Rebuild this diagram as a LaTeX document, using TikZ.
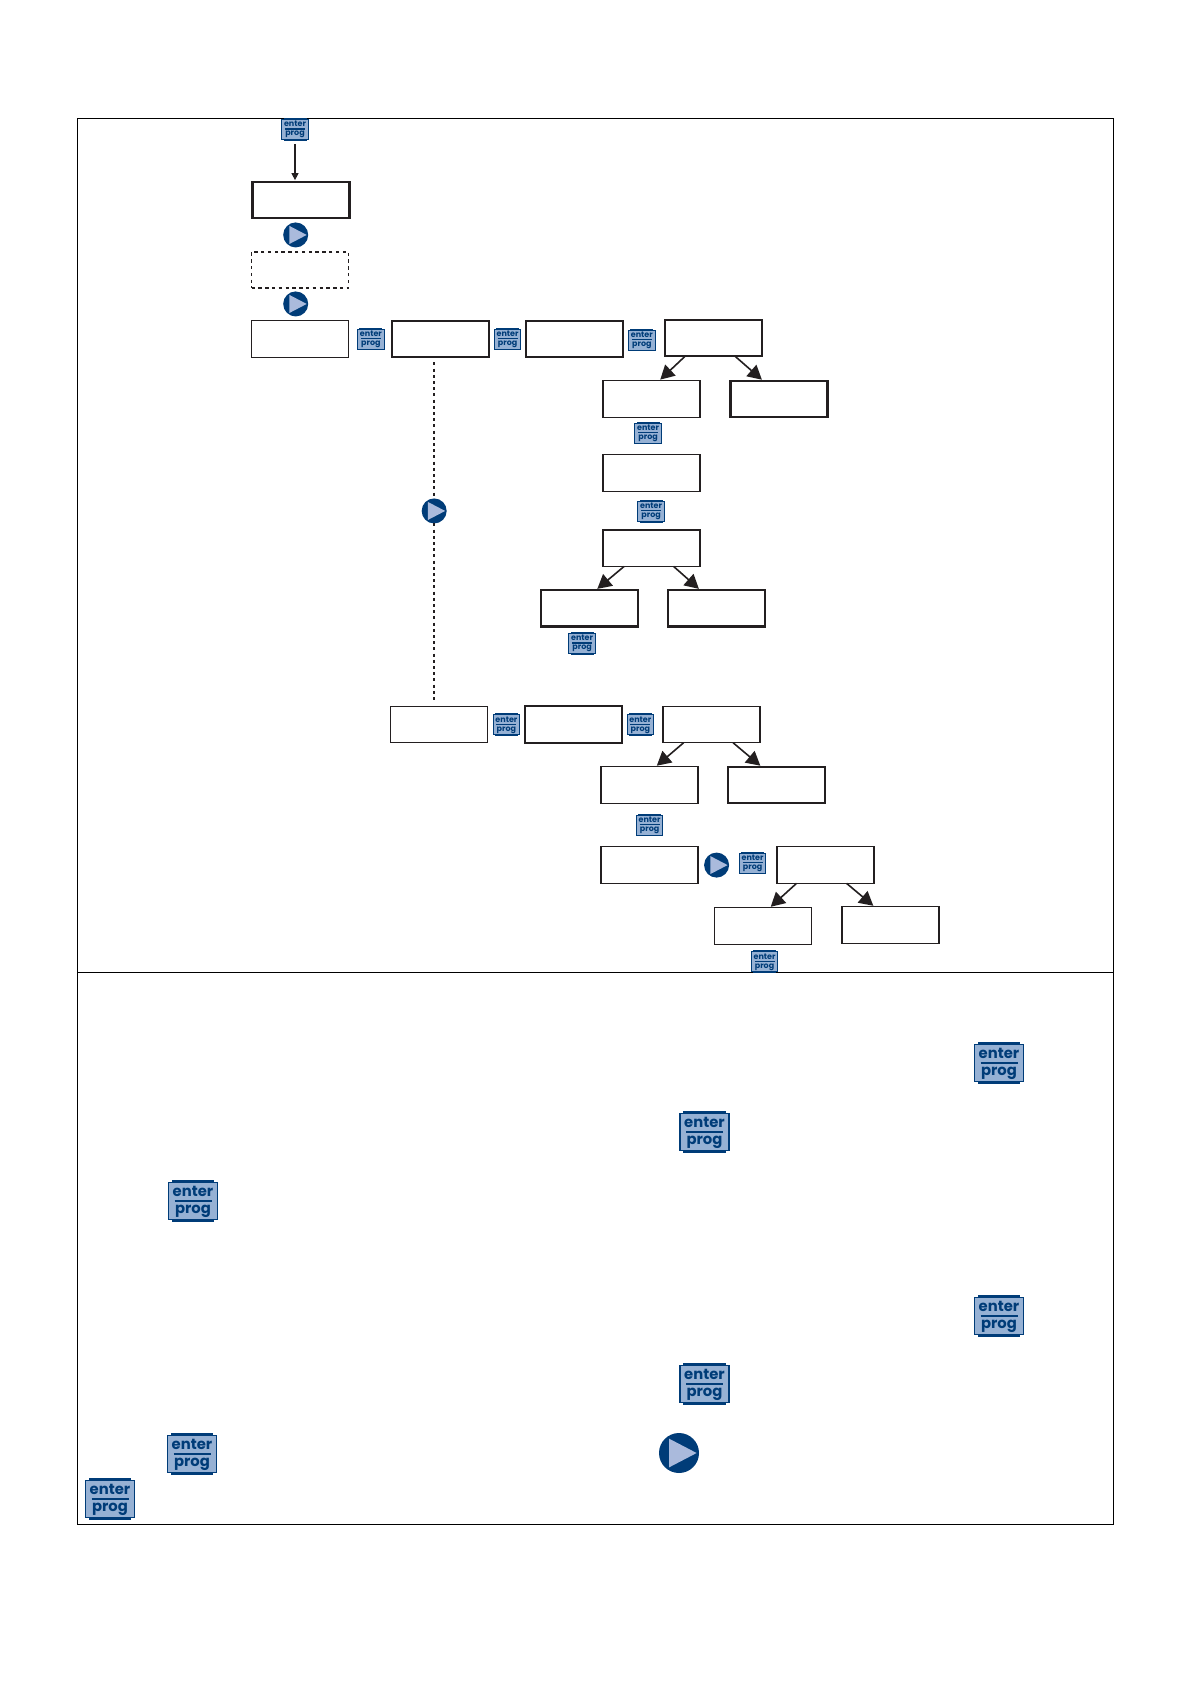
\documentclass[tikz,border=0pt]{standalone}
\usepackage{fontspec}
\setsansfont{Poppins}
\usepackage{tikz}
\usetikzlibrary{positioning,arrows.meta,calc}
\definecolor{navy}{RGB}{0,60,120}
\definecolor{steel}{RGB}{150,177,212}
\definecolor{pale}{RGB}{170,186,220}
\definecolor{ink}{RGB}{35,31,32}
\newcommand{\progtext}{\rule{0pt}{.8em}enter\\[-.8em]\rule{2.5em}{.135em}\\[-.35em]prog}
\tikzset{
  box/.style={draw=ink,line width=.65pt,minimum width=48.5pt,minimum height=18.25pt,inner sep=0pt,outer sep=0pt},
  heavy/.style={box,line width=1.1pt},
  dashbox/.style={box,line width=.9pt,dash pattern=on 1.7pt off 1.7pt},
  flow/.style={-{Triangle[length=7pt,width=7.5pt]},draw=ink,line width=.8pt,shorten >=.8pt},
  feed/.style={-{Triangle[length=3.5pt,width=3.5pt]},draw=ink,line width=.55pt},
  dots/.style={draw=ink,line width=.9pt,dash pattern=on 1.5pt off 1.6pt},
  frame/.style={draw=black,line width=.4pt},
  progkey/.style={draw=navy,fill=steel,line width=#1*.9pt,minimum width=#1*24.5pt,minimum height=#1*18.5pt,
    inner sep=0pt,outer sep=0pt,align=center,text=navy,
    append after command={\pgfextra{
      \fill[navy] ([xshift=#1*1.6pt]\tikzlastnode.north west) rectangle ([xshift=-#1*1.6pt,yshift=#1*1.3pt]\tikzlastnode.north east);
      \fill[navy] ([xshift=#1*1.6pt]\tikzlastnode.south west) rectangle ([xshift=-#1*1.6pt,yshift=-#1*1.3pt]\tikzlastnode.south east);
    }}},
  smallkey/.style={progkey=.54,font=\sffamily\bfseries\fontsize{4}{4.5}\selectfont},
  bigkey/.style={progkey=1,font=\sffamily\bfseries\fontsize{7.4}{8.4}\selectfont},
  playbtn/.style={circle,fill=navy,minimum size=2*#1,inner sep=0pt,outer sep=0pt,
    path picture={\fill[pale] ([shift={(-.5*#1,.72*#1)}]path picture bounding box.center)
      -- ([shift={(.88*#1,0pt)}]path picture bounding box.center)
      -- ([shift={(-.5*#1,-.72*#1)}]path picture bounding box.center) -- cycle;}},
}
\begin{document}
\begin{tikzpicture}[x=.5pt,y=-.5pt]
  \useasboundingbox (0,0) rectangle (1190,1684);
  \draw[frame] (77,118) rectangle (1113,1524);
  \draw[frame] (77,972) -- (1113,972);

  \node[heavy] (start) at (301,200) {};
  \node[smallkey,above=21.25pt of start,xshift=-3pt] (keystart) {\progtext};
  \node[playbtn=6.25pt,below=2.1pt of start,xshift=-2.65pt] (playa) {};
  \node[dashbox,below=16.75pt of start,xshift=-.5pt] (optional) {};
  \node[playbtn=6.25pt,below=1.6pt of optional,xshift=-2.15pt] (playb) {};
  \node[box,below=16.25pt of optional] (menua) {};
  \node[smallkey,right=4.6pt of menua] (keya) {\progtext};
  \node[heavy,right=3.75pt of keya] (suba) {};
  \node[smallkey,right=2.85pt of suba] (keyb) {\progtext};
  \node[heavy,right=2.65pt of keyb] (subb) {};
  \node[smallkey,right=2.75pt of subb,yshift=-.5pt] (keyc) {\progtext};
  \node[heavy,right=5pt of keyc,yshift=1pt] (subc) {};
  \node[box,below=12.25pt of subc,xshift=-31pt] (lefta) {};
  \node[heavy,right=15.25pt of lefta] (righta) {};
  \node[smallkey,below=2.9pt of lefta,xshift=-1.75pt] (keyd) {\progtext};
  \node[box,below=5.9pt of keyd,xshift=1.75pt] (valuea) {};
  \node[smallkey,below=4.9pt of valuea,xshift=-.25pt] (keye) {\progtext};
  \node[box,below=4.4pt of keye,xshift=.25pt] (valueb) {};
  \node[heavy,below=11.75pt of valueb,xshift=-31pt] (leftb) {};
  \node[heavy,right=15pt of leftb] (rightb) {};
  \node[smallkey,below=3.4pt of leftb,xshift=-3.75pt] (keyf) {\progtext};
  \node[playbtn=6.25pt,below=70.6pt of suba,xshift=-3pt] (playc) {};
  \node[box,below=91.4pt of playc,xshift=2.5pt] (menub) {};
  \node[smallkey,right=2.75pt of menub] (keyg) {\progtext};
  \node[heavy,right=2.5pt of keyg] (subd) {};
  \node[smallkey,right=2.75pt of subd] (keyh) {\progtext};
  \node[box,right=4.75pt of keyh] (sube) {};
  \node[box,below=12pt of sube,xshift=-31pt] (leftc) {};
  \node[heavy,right=15pt of leftc] (rightc) {};
  \node[smallkey,below=5.9pt of leftc] (keyi) {\progtext};
  \node[box,below=5.9pt of keyi] (valuec) {};
  \node[playbtn=6.25pt,right=3pt of valuec] (playd) {};
  \node[smallkey,right=5.15pt of playd,yshift=1pt] (keyj) {\progtext};
  \node[box,right=5.6pt of keyj,yshift=-1pt] (subf) {};
  \node[box,below=12.25pt of subf,xshift=-31.25pt] (leftd) {};
  \node[box,right=15.25pt of leftd,yshift=.5pt] (rightd) {};
  \node[smallkey,below=3.7pt of leftd,xshift=.75pt] (keyk) {\progtext};

  \draw[feed,shorten <=2.4pt,shorten >=.8pt] (keystart) -- (keystart |- start.north);
  \draw[dots,shorten <=2.6pt] (playc |- suba.south) -- (playc);
  \draw[dots,shorten >=2.6pt] (playc) -- (playc |- menub.north);
  \draw[flow] ([xshift=-14.25pt]subc.south) -- ([xshift=3.75pt]lefta.north); \draw[flow] ([xshift=10.75pt]subc.south) -- ([xshift=-8pt]righta.north);
  \draw[flow] ([xshift=-13.75pt]valueb.south) -- ([xshift=3.25pt]leftb.north); \draw[flow] ([xshift=11pt]valueb.south) -- ([xshift=-8.25pt]rightb.north);
  \draw[flow] ([xshift=-14pt]sube.south) -- ([xshift=3pt]leftc.north); \draw[flow] ([xshift=10.75pt]sube.south) -- ([xshift=-7.5pt]rightc.north);
  \draw[flow] ([xshift=-14.5pt]subf.south) -- ([xshift=3.25pt]leftd.north); \draw[flow] ([xshift=10.5pt]subf.south) -- ([xshift=-8pt]rightd.north);

  \foreach \nm/\px/\py in {bigkeya/999/1063,bigkeyb/704.5/1132,bigkeyc/193/1201,bigkeyd/999/1316,bigkeye/704.5/1384,bigkeyf/192/1454,bigkeyg/110/1499}
    \node[bigkey] (\nm) at (\px,\py) {\progtext};
  \node[playbtn=10pt] (playbig) at (679,1453) {};
\end{tikzpicture}
\end{document}
